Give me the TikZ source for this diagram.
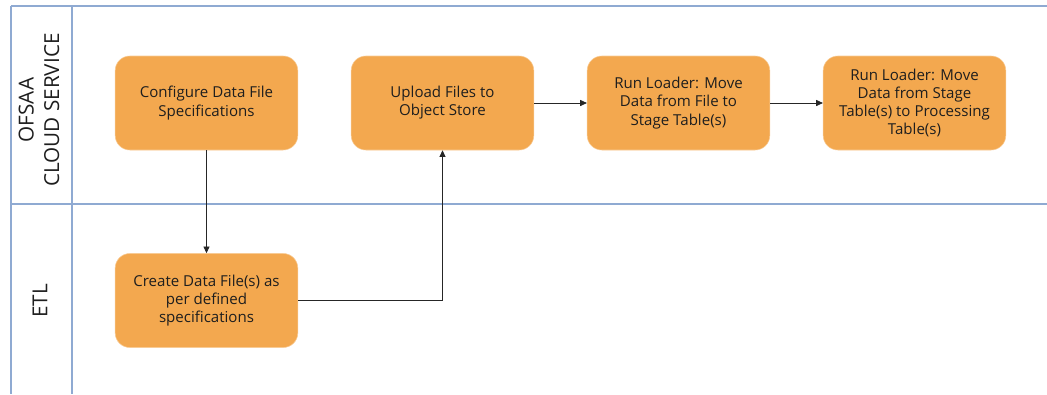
\documentclass[tikz,border=0pt]{standalone}
\usepackage{fontspec}
\setmainfont{Open Sans}
\usepackage{xcolor}
\usetikzlibrary{arrows.meta}
\definecolor{laneblue}{RGB}{143,170,210}
\definecolor{stepfill}{RGB}{243,168,79}
\definecolor{steptext}{RGB}{30,30,30}
\tikzset{
  stepbox/.style={draw=stepfill!60!white, line width=0.4pt, fill=stepfill,
    rounded corners=11pt, minimum width=137pt, minimum height=70.5pt,
    align=center, text=steptext, font=\fontsize{11.3}{13.6}\selectfont},
  lanelabel/.style={rotate=90, align=center, text=steptext,
    font=\fontsize{15.5}{19}\selectfont},
  flow/.style={-{Triangle[length=5pt,width=4.5pt]}, line width=0.6pt, black!85}
}
\newcommand\swimlanes{
  \draw[laneblue, line width=1.2pt] (11,6) -- (1047,6);
  \draw[laneblue, line width=1.2pt] (11,204) -- (1047,204);
  \draw[laneblue, line width=1.2pt] (11,6) -- (11,394);
  \draw[laneblue, line width=1.2pt] (72,6) -- (72,394);
}

\begin{document}
\begin{tikzpicture}[x=0.75pt, y=-0.75pt]
\useasboundingbox (0,0) rectangle (1047,394);
\swimlanes
\node[lanelabel] (ofsaa) at (39,110) {OFSAA\\CLOUD SERVICE};
\node[lanelabel] (etl) at (40,301) {ETL};

\node[stepbox] (configure) at (206.5,103) {Configure Data File\\Specifications};
\node[stepbox] (create) at (206.5,300.5) {Create Data File(s) as\\per defined\\specifications};
\node[stepbox] (upload) at (442.5,103) {Upload Files to\\Object Store};
\node[stepbox] (stage) at (678.5,103) {Run Loader: Move\\Data from File to\\Stage Table(s)};
\node[stepbox] (process) at (914.5,103) {Run Loader: Move\\Data from Stage\\Table(s) to Processing\\Table(s)};

\draw[flow] (configure) -- (create);
\draw[flow] (create.east) -| (upload.south);
\draw[flow] (upload) -- (stage);
\draw[flow] (stage) -- (process);

\end{tikzpicture}
\end{document}
